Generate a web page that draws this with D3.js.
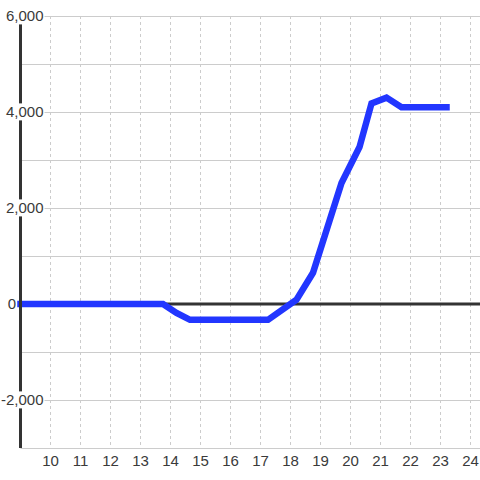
<!DOCTYPE html>
<html>
<head>
<meta charset="utf-8">
<script src="https://cdn.jsdelivr.net/npm/d3@7"></script>
<style>
  body { margin: 0; background: #fff; }
  text { font-family: "Liberation Sans", Arial, sans-serif; font-size: 15px; fill: #3a3a3a; }
</style>
</head>
<body>
<div id="chart"></div>
<script>
// values
let hours = [9, 13.75, 14.2, 14.65, 17.25, 18.2, 18.75, 19.7, 20.3, 20.7, 21.2, 21.7, 23.2];
let values = [0, 0, -185, -330, -330, 90, 650, 2520, 3270, 4180, 4300, 4100, 4100];
let xTicks = [10, 11, 12, 13, 14, 15, 16, 17, 18, 19, 20, 21, 22, 23, 24];
let yTicks = [-2000, 0, 2000, 4000, 6000];
let yGrid = [-3000, -2000, -1000, 0, 1000, 2000, 3000, 4000, 5000, 6000];

let width = 480, height = 480;

let svg = d3.select("#chart")
  .append("svg")
  .attr("width", width)
  .attr("height", height);

let x = d3.scaleLinear().domain([9, 24.3333]).range([20.5, 480.5]);
let y = d3.scaleLinear().domain([-3000, 6000]).range([448, 16]);

//horizontal grid
svg.append("g")
  .selectAll("line")
  .data(yGrid)
  .enter()
  .append("line")
  .attr("x1", x(9)).attr("x2", width)
  .attr("y1", function(d) { return Math.round(y(d)) + 0.5; })
  .attr("y2", function(d) { return Math.round(y(d)) + 0.5; })
  .attr("stroke", "#ccc")
  .attr("stroke-width", 1);

//vertical dotted grid
svg.append("g")
  .selectAll("line")
  .data(xTicks)
  .enter()
  .append("line")
  .attr("x1", function(d) { return x(d); })
  .attr("x2", function(d) { return x(d); })
  .attr("y1", y(6000)).attr("y2", y(-3000))
  .attr("stroke", "#ccc")
  .attr("stroke-width", 1)
  .attr("stroke-dasharray", "3,3");

//zero line
svg.append("line")
  .attr("x1", x(9)).attr("x2", width)
  .attr("y1", y(0)).attr("y2", y(0))
  .attr("stroke", "#333")
  .attr("stroke-width", 3);

//the line
let line = d3.line()
  .x(function(d, i) { return x(hours[i]); })
  .y(function(d) { return y(d); });

svg.append("path")
  .datum(values)
  .attr("d", line)
  .attr("fill", "none")
  .attr("stroke", "#2236ff")
  .attr("stroke-width", 6.5)
  .attr("stroke-linecap", "square");

//y axis line
svg.append("line")
  .attr("x1", x(9)).attr("x2", x(9))
  .attr("y1", y(6000)).attr("y2", y(-3000))
  .attr("stroke", "#333")
  .attr("stroke-width", 3);

//y labels with white box behind
let fmt = d3.format(",");
let yLab = svg.append("g")
  .selectAll("g")
  .data(yTicks)
  .enter()
  .append("g");

yLab.append("text")
  .attr("x", function(d) { return d === 0 ? 16 : 43.5; })
  .attr("y", function(d) { return y(d); })
  .attr("dy", "0.36em")
  .attr("text-anchor", "end")
  .text(function(d) { return fmt(d).replace("−", "-"); });

yLab.each(function(d) {
  if (d === 0) return;
  let g = d3.select(this);
  let bb = g.select("text").node().getBBox();
  g.insert("rect", "text")
    .attr("x", bb.x)
    .attr("y", bb.y)
    .attr("width", bb.width + 1)
    .attr("height", bb.height)
    .attr("fill", "#fff");
});

//x labels
svg.append("g")
  .selectAll("text")
  .data(xTicks)
  .enter()
  .append("text")
  .attr("x", function(d) { return x(d); })
  .attr("y", 466)
  .attr("text-anchor", "middle")
  .text(function(d) { return d; });
</script>
</body>
</html>
